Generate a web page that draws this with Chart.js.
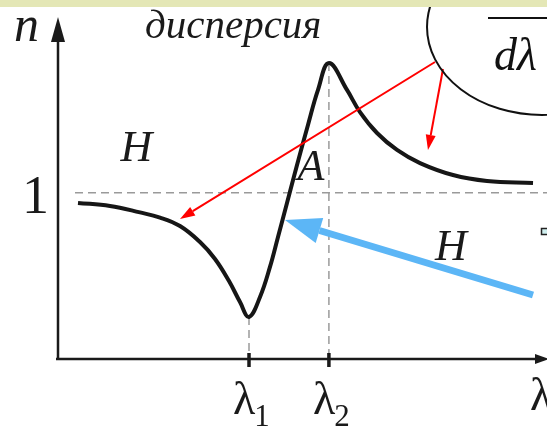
<!DOCTYPE html>
<html><head><meta charset="utf-8">
<script src="https://cdn.jsdelivr.net/npm/chart.js@4/dist/chart.umd.min.js"></script>
<style>html,body{margin:0;padding:0;background:#fff;overflow:hidden}#wrap{width:547px;height:431px;position:relative}</style>
</head><body><div id="wrap"><canvas id="c" width="547" height="431"></canvas></div>
<script>
// wavelength (arbitrary units) and refractive index n
const lambdaValues = [0.409, 1.063, 1.677, 2.086, 2.495, 2.904, 3.211, 3.497, 3.722, 3.906, 4.131, 4.335, 4.499, 4.683, 4.888, 5.112, 5.317, 5.542, 5.910, 6.176, 6.524, 6.933, 7.403, 8.078, 8.773, 9.714];
const nValues      = [0.939, 0.921, 0.882, 0.851, 0.800, 0.704, 0.602, 0.469, 0.343, 0.253, 0.373, 0.554, 0.734, 0.939, 1.167, 1.408, 1.619, 1.781, 1.619, 1.486, 1.360, 1.258, 1.179, 1.107, 1.071, 1.059];
const tickLambdas  = [3.906, 5.54];
const tickBase     = ['λ', 'λ'];
const tickSub      = ['1', '2'];
const nTickValue   = 1;
const nTickLabel   = '1';
const regionLabels = ['H', 'A', 'H'];
const regionAt     = [[1.28, 1.19], [4.90, 1.08], [7.71, 0.597]];

const SERIF = '"Liberation Serif", "DejaVu Serif", serif';

function arrow(ctx, x1, y1, x2, y2, color, w, hl, hw) {
  const a = Math.atan2(y2 - y1, x2 - x1);
  const bx = x2 - hl * Math.cos(a), by = y2 - hl * Math.sin(a);
  ctx.save();
  ctx.strokeStyle = color; ctx.fillStyle = color; ctx.lineWidth = w; ctx.lineCap = 'butt';
  ctx.beginPath(); ctx.moveTo(x1, y1); ctx.lineTo(bx, by); ctx.stroke();
  ctx.beginPath();
  ctx.moveTo(x2, y2);
  ctx.lineTo(bx + hw * Math.sin(a), by - hw * Math.cos(a));
  ctx.lineTo(bx - hw * Math.sin(a), by + hw * Math.cos(a));
  ctx.closePath(); ctx.fill();
  ctx.restore();
}

const deco = {
  id: 'deco',
  beforeDraw(chart) {
    const ctx = chart.ctx;
    ctx.save(); ctx.fillStyle = '#ffffff'; ctx.fillRect(0, 0, chart.width, chart.height); ctx.restore();
  },
  beforeDatasetsDraw(chart) {
    const ctx = chart.ctx, xs = chart.scales.x, ys = chart.scales.y;
    const x0 = xs.getPixelForValue(0), y0 = ys.getPixelForValue(0);
    const y1 = ys.getPixelForValue(nTickValue);
    ctx.save();
    ctx.strokeStyle = '#9a9a9a'; ctx.lineWidth = 1.5; ctx.setLineDash([8, 5]);
    ctx.beginPath(); ctx.moveTo(x0 + 17, y1); ctx.lineTo(chart.width, y1); ctx.stroke();
    const minI = nValues.indexOf(Math.min(...nValues));
    const maxI = nValues.indexOf(Math.max(...nValues));
    [[tickLambdas[0], nValues[minI]], [tickLambdas[1], nValues[maxI]]].forEach(([l, n]) => {
      const px = xs.getPixelForValue(l);
      ctx.beginPath(); ctx.moveTo(px, ys.getPixelForValue(n)); ctx.lineTo(px, y0); ctx.stroke();
    });
    ctx.setLineDash([]);
    ctx.strokeStyle = '#1a1a1a'; ctx.fillStyle = '#1a1a1a'; ctx.lineWidth = 2.5;
    ctx.beginPath(); ctx.moveTo(x0 - 2, y0); ctx.lineTo(chart.width - 6, y0); ctx.stroke();
    ctx.beginPath(); ctx.moveTo(x0, y0 + 1); ctx.lineTo(x0, 38); ctx.stroke();
    ctx.beginPath(); ctx.moveTo(x0, 17); ctx.lineTo(x0 - 7, 42); ctx.lineTo(x0 + 7, 42); ctx.closePath(); ctx.fill();
    ctx.beginPath(); ctx.moveTo(chart.width + 2, y0); ctx.lineTo(chart.width - 12, y0 - 5); ctx.lineTo(chart.width - 12, y0 + 5); ctx.closePath(); ctx.fill();
    ctx.lineWidth = 3.5;
    tickLambdas.forEach(l => {
      const px = xs.getPixelForValue(l);
      ctx.beginPath(); ctx.moveTo(px, y0 - 6); ctx.lineTo(px, y0 + 8); ctx.stroke();
    });
    ctx.restore();
  },
  afterDatasetsDraw(chart) {
    const ctx = chart.ctx, xs = chart.scales.x, ys = chart.scales.y;
    const P = (l, n) => [xs.getPixelForValue(l), ys.getPixelForValue(n)];
    const y0 = ys.getPixelForValue(0);
    ctx.save();
    ctx.fillStyle = '#1a1a1a'; ctx.textBaseline = 'alphabetic';
    tickLambdas.forEach((l, i) => {
      const px = xs.getPixelForValue(l);
      ctx.font = '46px ' + SERIF; ctx.textAlign = 'left';
      const w = ctx.measureText(tickBase[i]).width;
      ctx.fillText(tickBase[i], px - 16, y0 + 55);
      ctx.font = '31px ' + SERIF;
      ctx.fillText(tickSub[i], px - 16 + w - 1, y0 + 67);
    });
    ctx.font = '46px ' + SERIF; ctx.textAlign = 'left';
    ctx.fillText('λ', chart.width - 17, y0 + 51);
    ctx.font = '54px ' + SERIF; ctx.textAlign = 'right';
    ctx.fillText(nTickLabel, 49, ys.getPixelForValue(nTickValue) + 20);
    ctx.textAlign = 'left';
    ctx.font = 'italic 50px ' + SERIF;
    ctx.fillText('n', 14, 41);
    ctx.font = 'italic 41px ' + SERIF;
    ctx.fillText('дисперсия', 145, 38);
    ctx.font = 'italic 44px ' + SERIF;
    regionLabels.forEach((t, i) => {
      const [px, py] = P(regionAt[i][0], regionAt[i][1]);
      ctx.fillText(t, px, py);
    });
    let a = P(7.71, 1.787), b = P(2.495, 0.842);
    arrow(ctx, a[0], a[1], b[0], b[1], '#ff0000', 2, 15, 5);
    a = P(7.873, 1.745); b = P(7.566, 1.258);
    arrow(ctx, a[0], a[1], b[0], b[1], '#ff0000', 2, 15, 5);
    const c = P(9.898, 1.998);
    ctx.strokeStyle = '#111'; ctx.lineWidth = 2;
    ctx.beginPath(); ctx.ellipse(c[0], c[1], 115, 88, 0, 0, Math.PI * 2); ctx.stroke();
    ctx.beginPath(); ctx.moveTo(488, 18); ctx.lineTo(chart.width, 18); ctx.stroke();
    ctx.font = 'italic 46px ' + SERIF; ctx.fillStyle = '#111';
    ctx.fillText('dλ', 494, 70);
    a = P(9.714, 0.385); b = P(4.642, 0.836);
    arrow(ctx, a[0], a[1], b[0], b[1], '#5cb6f6', 7, 36, 13);
    ctx.fillStyle = '#cfeeee'; ctx.strokeStyle = '#222'; ctx.lineWidth = 1.5;
    ctx.fillRect(541.5, 228.5, 7, 6); ctx.strokeRect(541.5, 228.5, 7, 6);
    ctx.fillStyle = '#e4e7b6';
    ctx.fillRect(0, 0, chart.width, 7);
    ctx.restore();
  }
};

function build() {
  new Chart(document.getElementById('c'), {
    type: 'line',
    data: {
      datasets: [{
        data: lambdaValues.map((l, i) => ({ x: l, y: nValues[i] })),
        borderColor: '#161616',
        borderWidth: 4,
        pointRadius: 0,
        fill: false,
        tension: 0.4
      }]
    },
    options: {
      responsive: false,
      animation: false,
      layout: { padding: { left: 58, right: 0, top: 10, bottom: 72 } },
      plugins: { legend: { display: false }, tooltip: { enabled: false } },
      scales: {
        x: { type: 'linear', min: 0, max: 10, display: false },
        y: { type: 'linear', min: 0, max: 2.1, display: false }
      }
    },
    plugins: [deco]
  });
}
const loads = ['40px "Liberation Serif"', 'italic 40px "Liberation Serif"'].map(f => document.fonts.load(f, 'λдH1n'));
Promise.all(loads).then(build, build);
</script></body></html>
